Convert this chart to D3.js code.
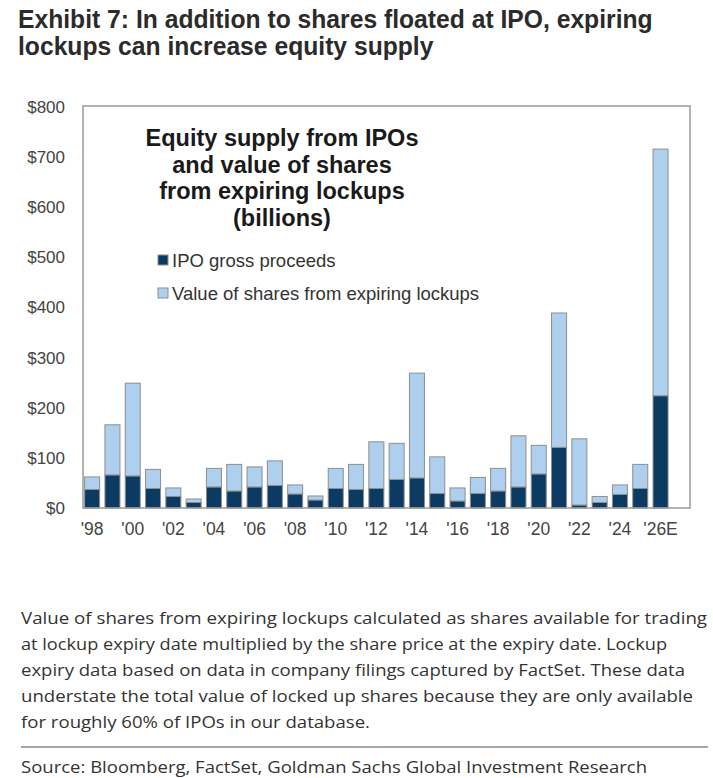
<!DOCTYPE html>
<html>
<head>
<meta charset="utf-8">
<script src="https://cdn.jsdelivr.net/npm/d3@7"></script>
<style>
  body { margin: 0; background: #fff; }
</style>
</head>
<body>
<div id="viz"></div>
<script>
// categories (years) and the labels shown under the axis
const years = ["'98","'99","'00","'01","'02","'03","'04","'05","'06","'07","'08","'09","'10","'11","'12",
               "'13","'14","'15","'16","'17","'18","'19","'20","'21","'22","'23","'24","'25","'26E"];
const xTickLabels = ["'98","'00","'02","'04","'06","'08","'10","'12","'14","'16","'18","'20","'22","'24","'26E"];

// series values, $ billions
const ipoProceeds = [37,66,64,39,23,11,42,34,42,45,28,16,39,37,39,57,60,29,14,29,34,42,68,121,6,11,27,39,224];
const lockupValue = [25,100,185,38,17,7,37,53,40,49,18,8,40,50,93,72,209,73,26,32,45,102,57,268,132,12,19,48,492];

const yTicks = [0,100,200,300,400,500,600,700,800];

const seriesNames = ["IPO gross proceeds", "Value of shares from expiring lockups"];

const titleLines = ["Exhibit 7: In addition to shares floated at IPO, expiring",
                    "lockups can increase equity supply"];
const chartTitle = ["Equity supply from IPOs", "and value of shares", "from expiring lockups", "(billions)"];
const noteLines = [
  "Value of shares from expiring lockups calculated as shares available for trading",
  "at lockup expiry date multiplied by the share price at the expiry date. Lockup",
  "expiry data based on data in company filings captured by FactSet. These data",
  "understate the total value of locked up shares because they are only available",
  "for roughly 60% of IPOs in our database."
];
const sourceText = "Source: Bloomberg, FactSet, Goldman Sachs Global Investment Research";

// page size
const width = 713;
const height = 778;

// plot frame
const frame = {left: 83, top: 106, right: 690, bottom: 508};

const colors = {ipo: "#0b3a63", lockup: "#aed0ee", outline: "#8e8e8e"};

const svg = d3.select("#viz")
    .append("svg")
    .attr("width", width)
    .attr("height", height);

// main heading, squeezed horizontally to look condensed
const heading = svg.append("g");
heading.selectAll("text")
    .data(titleLines)
    .enter()
    .append("text")
    .attr("x", 0)
    .attr("y", (d, i) => 28 + i * 27)
    .attr("font-family", "'Liberation Sans', Arial, sans-serif")
    .attr("font-weight", "bold")
    .attr("font-size", 25)
    .attr("fill", "#2b2b2b")
    .text(d => d);
const firstLen = heading.select("text").node().getComputedTextLength();
heading.attr("transform", "translate(18,0) scale(" + (635 / firstLen) + ",1)");

// build stacked table from the arrays
const table = years.map((y, i) => ({year: y, ipo: ipoProceeds[i], lockup: lockupValue[i]}));
const stacked = d3.stack().keys(["ipo", "lockup"])(table);

// scales
const x = d3.scaleBand()
    .domain(years)
    .range([82, 82 + 29 * 20.3])
    .paddingInner(0.26)
    .paddingOuter(0.13);

const y = d3.scaleLinear().domain([0, 800]).range([frame.bottom, frame.top + 1]);

// y axis
const yAxis = svg.append("g")
    .attr("transform", "translate(" + frame.left + ",0)")
    .call(d3.axisLeft(y).tickValues(yTicks).tickSize(0).tickPadding(18).tickFormat(d => "$" + d));
yAxis.select(".domain").remove();
yAxis.selectAll("text")
    .attr("font-family", "Arial, 'Liberation Sans', sans-serif")
    .attr("font-size", 17)
    .attr("fill", "#444");

// x axis
const xAxis = svg.append("g")
    .attr("transform", "translate(0," + frame.bottom + ")")
    .call(d3.axisBottom(x).tickValues(xTickLabels).tickSize(0).tickPadding(15));
xAxis.select(".domain").remove();
xAxis.selectAll("text")
    .attr("font-family", "Arial, 'Liberation Sans', sans-serif")
    .attr("font-size", 17.5)
    .attr("fill", "#444");

// stacked bars
svg.append("g")
    .selectAll("g")
    .data(stacked)
    .enter()
    .append("g")
    .attr("fill", d => colors[d.key])
    .selectAll("rect")
    .data(d => d)
    .enter()
    .append("rect")
    .attr("x", d => x(d.data.year))
    .attr("y", d => y(d[1]))
    .attr("width", x.bandwidth())
    .attr("height", d => y(d[0]) - y(d[1]))
    .attr("stroke", colors.outline)
    .attr("stroke-width", 1);

// plot frame
svg.append("rect")
    .attr("x", frame.left)
    .attr("y", frame.top)
    .attr("width", frame.right - frame.left)
    .attr("height", frame.bottom - frame.top)
    .attr("fill", "none")
    .attr("stroke", "#9a9a9a")
    .attr("stroke-width", 1.5);

// title inside the chart
svg.append("g")
    .selectAll("text")
    .data(chartTitle)
    .enter()
    .append("text")
    .attr("x", 282)
    .attr("y", (d, i) => 146 + i * 26.5)
    .attr("text-anchor", "middle")
    .attr("font-family", "Arial, 'Liberation Sans', sans-serif")
    .attr("font-weight", "bold")
    .attr("font-size", 23.5)
    .attr("fill", "#1a1a1a")
    .text(d => d);

// legend
const legend = svg.append("g")
    .selectAll("g")
    .data(seriesNames)
    .enter()
    .append("g")
    .attr("transform", (d, i) => "translate(158," + (260 + i * 33) + ")");

legend.append("rect")
    .attr("x", 0)
    .attr("y", -5)
    .attr("width", 10)
    .attr("height", 10)
    .attr("fill", (d, i) => i === 0 ? colors.ipo : colors.lockup)
    .attr("stroke", colors.outline)
    .attr("stroke-width", 1);

legend.append("text")
    .attr("x", 14)
    .attr("y", 6.5)
    .attr("font-family", "Arial, 'Liberation Sans', sans-serif")
    .attr("font-size", 18.5)
    .attr("fill", "#333")
    .text(d => d);

// footnote
const noteEnds = [707, 667, 685, 693, 370];
svg.append("g")
    .selectAll("text")
    .data(noteLines)
    .enter()
    .append("text")
    .attr("x", 21)
    .attr("y", (d, i) => 624 + i * 26)
    .attr("font-family", "'Open Sans', 'Noto Sans', sans-serif")
    .attr("font-size", 17)
    .attr("fill", "#333")
    .attr("textLength", (d, i) => noteEnds[i] - 21)
    .attr("lengthAdjust", "spacingAndGlyphs")
    .text(d => d);

// rule above the source line
svg.append("line")
    .attr("x1", 21)
    .attr("x2", 708)
    .attr("y1", 747)
    .attr("y2", 747)
    .attr("stroke", "#8a8a8a")
    .attr("stroke-width", 1.5);

svg.append("text")
    .attr("x", 21)
    .attr("y", 773)
    .attr("font-family", "'Open Sans', 'Noto Sans', sans-serif")
    .attr("font-size", 17)
    .attr("fill", "#333")
    .attr("textLength", 626)
    .attr("lengthAdjust", "spacingAndGlyphs")
    .text(sourceText);
</script>
</body>
</html>
